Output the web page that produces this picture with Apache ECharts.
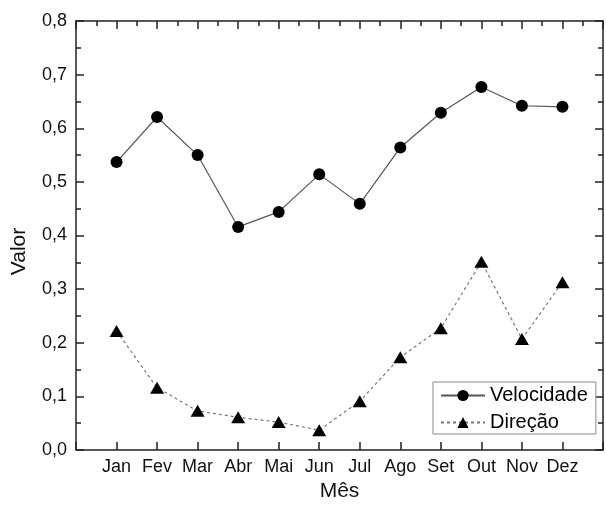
<!DOCTYPE html>
<html>
<head>
<meta charset="utf-8">
<script src="https://cdn.jsdelivr.net/npm/echarts@6/dist/echarts.min.js"></script>
<style>
  html, body { margin: 0; padding: 0; background: #fff; }
  #chart { width: 606px; height: 510px; }
</style>
</head>
<body>
<div id="chart"></div>
<script>
const months = ['Jan', 'Fev', 'Mar', 'Abr', 'Mai', 'Jun', 'Jul', 'Ago', 'Set', 'Out', 'Nov', 'Dez'];
const velocidade = [0.537, 0.621, 0.550, 0.416, 0.444, 0.514, 0.459, 0.564, 0.629, 0.677, 0.642, 0.640];
const direcao = [0.222, 0.116, 0.073, 0.061, 0.052, 0.037, 0.091, 0.173, 0.227, 0.351, 0.207, 0.313];
const yTickLabels = ['0,0', '0,1', '0,2', '0,3', '0,4', '0,5', '0,6', '0,7', '0,8'];
const seriesNames = ['Velocidade', 'Direção'];
const xTitle = 'Mês';
const yTitle = 'Valor';

const FONT = 'Liberation Sans, Arial, sans-serif';
const AX = '#222';

const chart = echarts.init(document.getElementById('chart'), null, { renderer: 'canvas' });

const pairs = (arr) => arr.map((v, i) => [i + 1, v]);

const lineSt = { color: AX, width: 1.5 };
const axLine = { show: true, onZero: false, lineStyle: lineSt };
const xBase = { type: 'value', min: 0, max: 13, interval: 1, splitLine: { show: false } };
const yBase = { type: 'value', min: 0, max: 0.8, interval: 0.1, splitLine: { show: false } };

const option = {
  animation: false,
  backgroundColor: '#fff',
  grid: { left: 76, right: -3, top: 21, bottom: 60, containLabel: false },
  legend: {
    orient: 'vertical',
    left: 433,
    top: 382,
    padding: [3, 8, 1, 7],
    borderColor: '#888',
    borderWidth: 1,
    backgroundColor: '#fff',
    itemWidth: 44,
    itemHeight: 14,
    itemGap: 6,
    textStyle: { fontFamily: FONT, fontSize: 20, color: '#000', lineHeight: 21 },
    data: seriesNames
  },
  xAxis: [
    Object.assign({}, xBase, {
      position: 'bottom',
      name: xTitle, nameLocation: 'middle', nameGap: 30,
      nameTextStyle: { fontFamily: FONT, fontSize: 21, color: '#111' },
      axisLine: axLine,
      axisTick: { show: true, inside: true, length: 8, lineStyle: lineSt },
      axisLabel: {
        fontFamily: FONT, fontSize: 18, color: '#111', margin: 8,
        formatter: (v) => (v >= 1 && v <= 12 ? months[v - 1] : '')
      }
    }),
    Object.assign({}, xBase, {
      position: 'top',
      axisLine: axLine,
      axisTick: { show: true, inside: true, length: 8, lineStyle: lineSt },
      minorTick: { show: true, splitNumber: 2, length: 5, lineStyle: lineSt },
      axisLabel: { show: false }
    })
  ],
  yAxis: [
    Object.assign({}, yBase, {
      position: 'left',
      name: yTitle, nameLocation: 'middle', nameGap: 46, nameRotate: 90,
      nameTextStyle: { fontFamily: FONT, fontSize: 21, color: '#111', padding: [0, 32, 0, 0] },
      axisLine: axLine,
      axisTick: { show: true, inside: true, length: 8, lineStyle: lineSt },
      minorTick: { show: true, splitNumber: 2, length: 5, lineStyle: lineSt },
      axisLabel: {
        fontFamily: FONT, fontSize: 18, color: '#111', margin: 9,
        formatter: (v) => yTickLabels[Math.round(v * 10)]
      }
    }),
    Object.assign({}, yBase, {
      position: 'right',
      axisLine: axLine,
      axisTick: { show: true, inside: true, length: 8, lineStyle: lineSt },
      minorTick: { show: true, splitNumber: 2, length: 5, lineStyle: lineSt },
      axisLabel: { show: false }
    })
  ],
  series: [
    {
      name: seriesNames[0], type: 'line', xAxisIndex: 0, yAxisIndex: 0,
      data: pairs(velocidade),
      symbol: 'circle', symbolSize: 12,
      itemStyle: { color: '#000' },
      lineStyle: { color: '#555', width: 1.2, type: 'solid' }
    },
    {
      name: seriesNames[1], type: 'line', xAxisIndex: 0, yAxisIndex: 0,
      data: pairs(direcao),
      symbol: 'triangle', symbolSize: [14, 12],
      itemStyle: { color: '#000' },
      lineStyle: { color: '#777', width: 1.2, type: [3, 3] }
    }
  ]
};

chart.setOption(option);
</script>
</body>
</html>
